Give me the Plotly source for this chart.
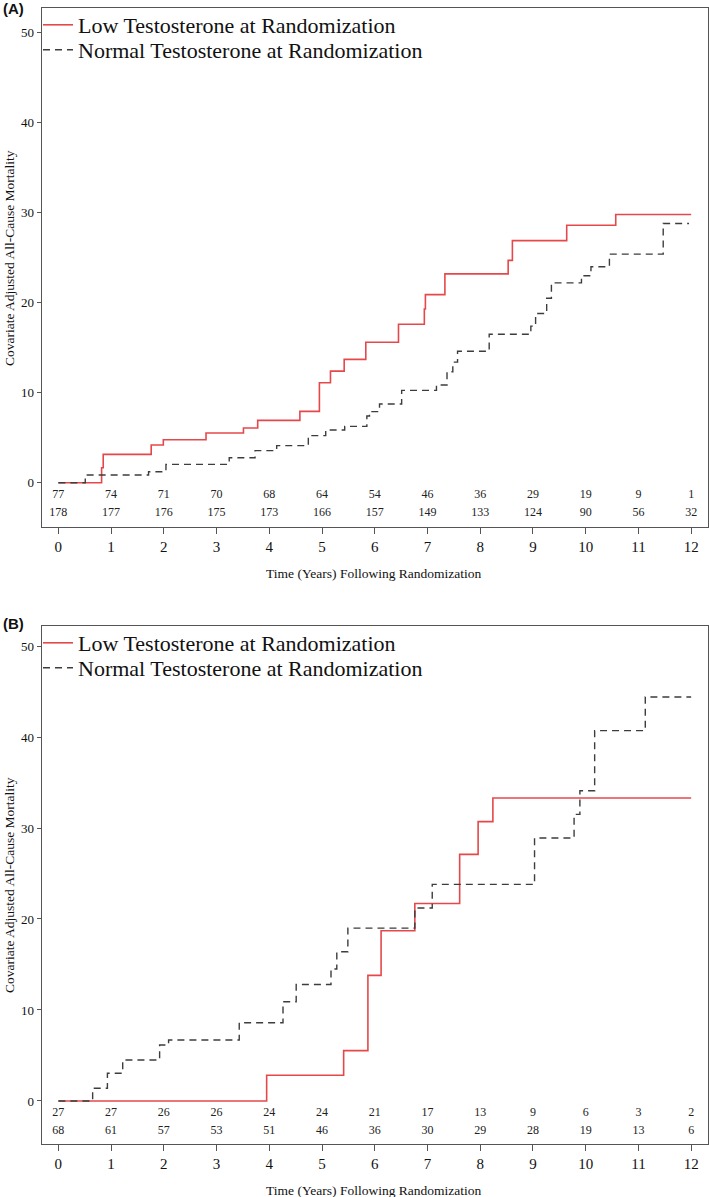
import plotly.graph_objects as go

# ---------------- data ----------------
# Panel A step curves (time in years, cumulative all-cause mortality %)
a_low_t = [0, 0.82, 0.85, 1.76, 1.99, 2.80, 3.51, 3.78, 4.58, 4.95, 5.16, 5.42, 5.83, 6.45, 6.94, 6.96, 7.33, 8.53, 8.61, 9.64, 10.57, 12.0]
a_low_y = [0, 1.67, 3.15, 4.19, 4.78, 5.52, 6.08, 6.93, 7.93, 11.1, 12.4, 13.7, 15.6, 17.6, 19.3, 20.9, 23.2, 24.7, 26.9, 28.6, 29.8, 29.8]

a_norm_t = [0, 0.51, 1.71, 2.04, 3.24, 3.73, 4.14, 4.74, 5.07, 5.43, 5.85, 5.90, 6.09, 6.51, 7.17, 7.37, 7.48, 7.57, 8.17, 8.96, 9.05, 9.26, 9.35, 9.92, 10.10, 10.45, 11.47, 11.96]
a_norm_y = [0, 0.86, 1.22, 2.04, 2.78, 3.56, 4.12, 5.23, 5.86, 6.26, 7.41, 7.9, 8.74, 10.26, 10.86, 12.33, 13.4, 14.6, 16.5, 17.4, 18.8, 20.5, 22.2, 23.0, 24.0, 25.4, 28.8, 28.8]

# Panel B step curves
b_low_t = [0, 3.95, 5.41, 5.87, 6.12, 6.76, 7.61, 7.96, 8.24, 12.0]
b_low_y = [0, 2.82, 5.53, 13.8, 18.7, 21.7, 27.1, 30.7, 33.3, 33.3]

b_norm_t = [0, 0.65, 0.93, 1.22, 1.92, 2.09, 3.43, 4.26, 4.51, 5.17, 5.28, 5.49, 6.76, 7.09, 9.03, 9.78, 9.89, 10.17, 11.13, 12.0]
b_norm_y = [0, 1.39, 3.04, 4.5, 6.15, 6.7, 8.6, 10.9, 12.8, 14.5, 16.4, 19.0, 21.2, 23.8, 28.9, 31.5, 34.1, 40.7, 44.4, 44.4]

# Numbers at risk
risk_years = list(range(0, 13))
a_risk_low = [77, 74, 71, 70, 68, 64, 54, 46, 36, 29, 19, 9, 1]
a_risk_norm = [178, 177, 176, 175, 173, 166, 157, 149, 133, 124, 90, 56, 32]
b_risk_low = [27, 27, 26, 26, 24, 24, 21, 17, 13, 9, 6, 3, 2]
b_risk_norm = [68, 61, 57, 53, 51, 46, 36, 30, 29, 28, 19, 13, 6]

x_ticks = list(range(0, 13))
y_ticks = [0, 10, 20, 30, 40, 50]

name_low = "Low Testosterone at Randomization"
name_norm = "Normal Testosterone at Randomization"
x_title = "Time (Years) Following Randomization"
y_title = "Covariate Adjusted All-Cause Mortality"

# ---------------- styling ----------------
W, H = 709, 1197
SERIF = "Liberation Serif, Times New Roman, serif"
RED = "#e5484b"
DARK = "#3d3d3d"
AX = "#555555"

def px_x(p):
    return p / W

def px_y(p):
    return 1 - p / H

fig = go.Figure()

def add_panel(xa, ya, low_t, low_y, norm_t, norm_y, r_low, r_norm, leg_low, leg_norm):
    fig.add_trace(go.Scatter(x=low_t, y=low_y, mode="lines", line=dict(shape="hv", color=RED, width=1.6),
                             name=name_low, xaxis=xa, yaxis=ya, legend=leg_low))
    fig.add_trace(go.Scatter(x=norm_t, y=norm_y, mode="lines",
                             line=dict(shape="hv", color=DARK, width=1.4, dash="7px,5px"),
                             name=name_norm, xaxis=xa, yaxis=ya, legend=leg_norm))
    fig.add_trace(go.Scatter(x=risk_years, y=[-1.35] * 13, mode="text", text=[str(v) for v in r_low],
                             textfont=dict(family=SERIF, size=12, color="#222"), showlegend=False,
                             xaxis=xa, yaxis=ya, hoverinfo="skip"))
    fig.add_trace(go.Scatter(x=risk_years, y=[-3.35] * 13, mode="text", text=[str(v) for v in r_norm],
                             textfont=dict(family=SERIF, size=12, color="#222"), showlegend=False,
                             xaxis=xa, yaxis=ya, hoverinfo="skip"))

add_panel("x", "y", a_low_t, a_low_y, a_norm_t, a_norm_y, a_risk_low, a_risk_norm, "legend", "legend2")
add_panel("x2", "y2", b_low_t, b_low_y, b_norm_t, b_norm_y, b_risk_low, b_risk_norm, "legend3", "legend4")

xdom = [px_x(41.5), px_x(707.5)]
xaxis_common = dict(range=[-0.32, 12.31], tickvals=x_ticks, ticks="outside", ticklen=6, tickwidth=1,
                    tickcolor=AX, showline=True, linecolor=AX, linewidth=1, mirror=True,
                    showgrid=False, zeroline=False, domain=xdom,
                    tickfont=dict(family=SERIF, size=15, color="#111"))
yaxis_common = dict(tickvals=y_ticks, ticks="outside", ticklen=4, tickwidth=1, tickcolor=AX,
                    showline=True, linecolor=AX, linewidth=1, mirror=True, showgrid=False,
                    zeroline=False, tickfont=dict(family=SERIF, size=13, color="#111"))

legend_common = dict(font=dict(family=SERIF, size=22, color="#111"), bgcolor="rgba(0,0,0,0)",
                     borderwidth=0, xanchor="left", yanchor="middle", itemwidth=30,
                     tracegroupgap=0, itemclick=False, x=px_x(38))

fig.update_layout(
    width=W, height=H, margin=dict(l=0, r=0, t=0, b=0),
    plot_bgcolor="white", paper_bgcolor="white", showlegend=True,
    xaxis=dict(**xaxis_common, anchor="y"),
    yaxis=dict(**yaxis_common, range=[-4.92, 52.74], domain=[px_y(527), px_y(8)], anchor="x"),
    xaxis2=dict(**xaxis_common, anchor="y2"),
    yaxis2=dict(**yaxis_common, range=[-4.73, 52.2], domain=[px_y(1144), px_y(626)], anchor="x2"),
    legend=dict(**legend_common, y=px_y(25)),
    legend2=dict(**legend_common, y=px_y(50)),
    legend3=dict(**legend_common, y=px_y(643)),
    legend4=dict(**legend_common, y=px_y(668)),
)

ann = []
for label, cy in (("(A)", 8), ("(B)", 623)):
    ann.append(dict(text="<b>%s</b>" % label, x=px_x(1), y=px_y(cy), xref="paper", yref="paper",
                    xanchor="left", yanchor="middle", showarrow=False,
                    font=dict(family="Liberation Sans, Arial, sans-serif", size=15, color="#111")))
for cy in (573, 1190):
    ann.append(dict(text=x_title, x=px_x(374.5), y=px_y(cy), xref="paper", yref="paper",
                    xanchor="center", yanchor="middle", showarrow=False,
                    font=dict(family=SERIF, size=13.5, color="#111")))
for cy in (258, 885):
    ann.append(dict(text=y_title, x=px_x(9), y=px_y(cy), xref="paper", yref="paper", textangle=-90,
                    xanchor="center", yanchor="middle", showarrow=False,
                    font=dict(family=SERIF, size=13.5, color="#111")))
fig.update_layout(annotations=ann)

fig.write_html("out.html")
